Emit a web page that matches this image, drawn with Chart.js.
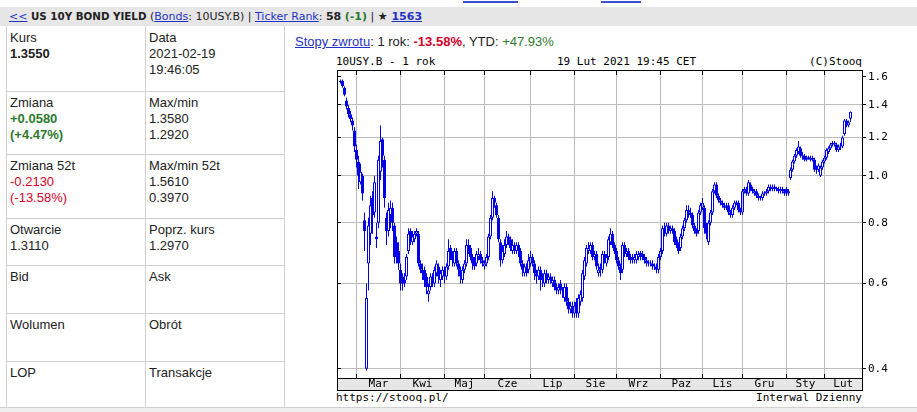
<!DOCTYPE html>
<html>
<head>
<meta charset="utf-8">
<script src="https://cdn.jsdelivr.net/npm/chart.js@4"></script>
<style>
body{margin:0;width:917px;height:412px;overflow:hidden;position:relative;background:#fff;font:13px Arial,"Liberation Sans",sans-serif;color:#222}
a{color:#1f33c8;text-decoration:underline}
.vl{position:absolute;width:1px;background:#d0d0d0;top:26px;height:382px}
.hl{position:absolute;height:1px;background:#d0d0d0;left:6px;width:279px}
.cell{position:absolute;line-height:16px;white-space:nowrap}
.g{color:#2d7a2d;font-weight:bold}
.r{color:#d6002b}
.mono{position:absolute;font:11px "DejaVu Sans Mono",monospace;color:#000;line-height:14px;white-space:nowrap}
#hdr{position:absolute;left:0;top:7px;width:917px;height:19px;background:#e6e6e6;font:11px "DejaVu Sans",sans-serif;line-height:19px;color:#222;white-space:nowrap}
#foot{position:absolute;left:0;top:407px;width:917px;height:5px;background:#efefef;border-top:1px solid #d0d0d0}
#wrap{position:absolute;left:290px;top:62px;width:627px;height:330px}
</style>
</head>
<body>
<div style="position:absolute;left:463px;top:1px;width:55px;height:2px;background:#3b4fd0"></div>
<div style="position:absolute;left:601px;top:1px;width:40px;height:2px;background:#3b4fd0"></div>

<div id="hdr"><span style="position:absolute;left:9px"><a>&lt;&lt;</a> <b style="font-size:10.3px">US 10Y BOND YIELD</b> (<a>Bonds</a>: 10USY.B) | <a>Ticker Rank</a>: <b>58</b> <b style="color:#2d7a2d">(-1)</b> | <b>&#9733; <a>1563</a></b></span></div>

<div class="vl" style="left:6px"></div>
<div class="vl" style="left:145px"></div>
<div class="vl" style="left:284px"></div>
<div class="hl" style="top:91px"></div>
<div class="hl" style="top:154px"></div>
<div class="hl" style="top:218px"></div>
<div class="hl" style="top:265px"></div>
<div class="hl" style="top:313px"></div>
<div class="hl" style="top:361px"></div>

<div class="cell" style="left:10px;top:30px">Kurs<br><b>1.3550</b></div>
<div class="cell" style="left:149px;top:30px">Data<br>2021-02-19<br>19:46:05</div>
<div class="cell" style="left:10px;top:95px">Zmiana<br><span class="g">+0.0580</span><br><span class="g">(+4.47%)</span></div>
<div class="cell" style="left:149px;top:95px">Max/min<br>1.3580<br>1.2920</div>
<div class="cell" style="left:10px;top:158px">Zmiana 52t<br><span class="r">-0.2130</span><br><span class="r">(-13.58%)</span></div>
<div class="cell" style="left:149px;top:158px">Max/min 52t<br>1.5610<br>0.3970</div>
<div class="cell" style="left:10px;top:222px">Otwarcie<br>1.3110</div>
<div class="cell" style="left:149px;top:222px">Poprz. kurs<br>1.2970</div>
<div class="cell" style="left:10px;top:269px">Bid</div>
<div class="cell" style="left:149px;top:269px">Ask</div>
<div class="cell" style="left:10px;top:317px">Wolumen</div>
<div class="cell" style="left:149px;top:317px">Obrót</div>
<div class="cell" style="left:10px;top:365px">LOP</div>
<div class="cell" style="left:149px;top:365px">Transakcje</div>

<div class="cell" style="left:295px;top:34px"><a>Stopy zwrotu</a>: 1 rok: <b class="r">-13.58%</b>, YTD: <span style="color:#2d7a2d">+47.93%</span></div>

<div class="mono" style="left:336px;top:55px">10USY.B - 1 rok</div>
<div class="mono" style="left:557px;top:55px">19 Lut 2021 19:45 CET</div>
<div class="mono" style="right:55px;top:55px">(C)Stooq</div>
<div class="mono" style="left:336px;top:391px">https://stooq.pl/</div>
<div class="mono" style="right:55px;top:391px">Interwal Dzienny</div>

<div id="wrap"><canvas id="chart"></canvas></div>
<div id="foot"></div>

<script>
// miesiace (pierwszy dzien handlowy miesiaca jako indeks sesji)
const monthNames = ['Mar', 'Kwi', 'Maj', 'Cze', 'Lip', 'Sie', 'Wrz', 'Paz', 'Lis', 'Gru', 'Sty', 'Lut'];
const monthStarts = [8, 30, 52, 72, 95, 117, 138, 160, 181, 201, 223, 242];
const yTicks = [0.4, 0.6, 0.8, 1.0, 1.2, 1.4, 1.6];
const yGrid = [0.4, 0.6, 0.8, 1.0, 1.2, 1.4];
const xMin = -1.75;
const xMax = 260.75;

// notowania dzienne 10USY.B, 2020-02-19 .. 2021-02-19
const opens = [
    1.56, 1.57, 1.52, 1.43, 1.38, 1.34, 1.30, 1.24, 1.13, 1.07,
    0.97, 1.00, 0.81, 0.40, 0.66, 0.76, 0.90, 0.84, 0.75, 0.80,
    1.02, 1.19, 1.08, 0.82, 0.77, 0.83, 0.86, 0.79, 0.73, 0.70,
    0.64, 0.62, 0.61, 0.62, 0.70, 0.77, 0.73, 0.74, 0.76, 0.76,
    0.66, 0.64, 0.64, 0.62, 0.57, 0.59, 0.62, 0.60, 0.63, 0.65,
    0.61, 0.62, 0.64, 0.62, 0.65, 0.71, 0.69, 0.66, 0.70, 0.66,
    0.64, 0.61, 0.64, 0.66, 0.72, 0.71, 0.68, 0.67, 0.66, 0.68,
    0.69, 0.67, 0.65, 0.66, 0.68, 0.75, 0.82, 0.90, 0.87, 0.82,
    0.73, 0.67, 0.69, 0.72, 0.75, 0.74, 0.70, 0.72, 0.70, 0.72,
    0.70, 0.66, 0.63, 0.65, 0.64, 0.66, 0.68, 0.66, 0.63, 0.62,
    0.64, 0.61, 0.60, 0.63, 0.61, 0.62, 0.60, 0.61, 0.59, 0.58,
    0.60, 0.58, 0.56, 0.59, 0.55, 0.53, 0.54, 0.52, 0.55, 0.52,
    0.55, 0.56, 0.62, 0.66, 0.70, 0.70, 0.72, 0.68, 0.69, 0.63,
    0.65, 0.64, 0.69, 0.66, 0.68, 0.73, 0.76, 0.72, 0.70, 0.67,
    0.65, 0.64, 0.72, 0.69, 0.70, 0.68, 0.67, 0.67, 0.67, 0.68,
    0.69, 0.69, 0.68, 0.67, 0.66, 0.66, 0.66, 0.65, 0.65, 0.64,
    0.68, 0.70, 0.78, 0.76, 0.79, 0.77, 0.78, 0.77, 0.74, 0.72,
    0.71, 0.75, 0.78, 0.81, 0.85, 0.84, 0.83, 0.79, 0.77, 0.77,
    0.84, 0.86, 0.86, 0.79, 0.73, 0.80, 0.84, 0.93, 0.96, 0.91,
    0.89, 0.88, 0.87, 0.86, 0.87, 0.84, 0.83, 0.86, 0.88, 0.88,
    0.85, 0.84, 0.93, 0.94, 0.92, 0.96, 0.94, 0.92, 0.93, 0.91,
    0.90, 0.90, 0.92, 0.92, 0.93, 0.95, 0.94, 0.95, 0.94, 0.94,
    0.93, 0.94, 0.93, 0.94, 0.92, 0.99, 1.03, 1.07, 1.10, 1.12,
    1.14, 1.10, 1.10, 1.08, 1.09, 1.09, 1.08, 1.08, 1.04, 1.03,
    1.00, 1.04, 1.07, 1.09, 1.12, 1.14, 1.16, 1.17, 1.16, 1.13,
    1.15, 1.15, 1.22, 1.30, 1.27, 1.311
];
const highs = [
    1.58, 1.58, 1.53, 1.45, 1.40, 1.36, 1.32, 1.26, 1.16, 1.10,
    1.06, 1.01, 0.84, 0.60, 0.82, 0.91, 0.93, 1.00, 0.80, 1.10,
    1.27, 1.20, 1.10, 0.84, 0.88, 0.89, 0.88, 0.80, 0.75, 0.73,
    0.66, 0.63, 0.63, 0.69, 0.78, 0.78, 0.77, 0.77, 0.78, 0.77,
    0.67, 0.66, 0.65, 0.63, 0.60, 0.63, 0.63, 0.65, 0.67, 0.66,
    0.64, 0.65, 0.65, 0.66, 0.74, 0.72, 0.70, 0.71, 0.71, 0.67,
    0.65, 0.65, 0.67, 0.74, 0.74, 0.72, 0.69, 0.68, 0.70, 0.71,
    0.70, 0.68, 0.67, 0.69, 0.76, 0.83, 0.93, 0.91, 0.88, 0.83,
    0.74, 0.72, 0.74, 0.77, 0.76, 0.75, 0.74, 0.73, 0.73, 0.73,
    0.71, 0.67, 0.66, 0.66, 0.69, 0.70, 0.69, 0.67, 0.64, 0.65,
    0.65, 0.63, 0.64, 0.64, 0.63, 0.63, 0.62, 0.62, 0.60, 0.60,
    0.61, 0.59, 0.60, 0.60, 0.56, 0.55, 0.55, 0.55, 0.56, 0.57,
    0.58, 0.64, 0.68, 0.72, 0.73, 0.73, 0.73, 0.70, 0.70, 0.66,
    0.66, 0.70, 0.70, 0.69, 0.75, 0.78, 0.77, 0.73, 0.71, 0.68,
    0.66, 0.73, 0.73, 0.71, 0.71, 0.69, 0.69, 0.69, 0.70, 0.70,
    0.70, 0.70, 0.69, 0.68, 0.67, 0.67, 0.67, 0.66, 0.66, 0.69,
    0.71, 0.79, 0.80, 0.80, 0.80, 0.79, 0.79, 0.78, 0.75, 0.73,
    0.76, 0.79, 0.82, 0.87, 0.87, 0.86, 0.84, 0.80, 0.78, 0.85,
    0.88, 0.90, 0.87, 0.80, 0.81, 0.85, 0.94, 0.97, 0.97, 0.92,
    0.90, 0.89, 0.88, 0.88, 0.88, 0.85, 0.87, 0.89, 0.89, 0.89,
    0.86, 0.94, 0.95, 0.95, 0.98, 0.97, 0.95, 0.94, 0.94, 0.92,
    0.91, 0.93, 0.93, 0.94, 0.96, 0.96, 0.96, 0.96, 0.95, 0.95,
    0.95, 0.95, 0.94, 0.95, 0.94, 1.04, 1.08, 1.11, 1.14, 1.18,
    1.15, 1.12, 1.11, 1.10, 1.10, 1.10, 1.10, 1.09, 1.05, 1.06,
    1.05, 1.08, 1.10, 1.14, 1.15, 1.17, 1.18, 1.18, 1.17, 1.16,
    1.17, 1.21, 1.31, 1.31, 1.30, 1.358
];
const lows = [
    1.55, 1.52, 1.46, 1.37, 1.32, 1.29, 1.24, 1.12, 1.04, 0.94,
    0.96, 0.89, 0.70, 0.397, 0.58, 0.72, 0.76, 0.82, 0.71, 0.78,
    0.98, 1.04, 0.86, 0.72, 0.75, 0.78, 0.77, 0.66, 0.66, 0.64,
    0.58, 0.58, 0.59, 0.61, 0.69, 0.72, 0.72, 0.73, 0.75, 0.65,
    0.63, 0.61, 0.59, 0.57, 0.55, 0.58, 0.59, 0.59, 0.62, 0.60,
    0.59, 0.61, 0.60, 0.61, 0.64, 0.67, 0.65, 0.65, 0.65, 0.62,
    0.60, 0.60, 0.63, 0.65, 0.69, 0.67, 0.64, 0.64, 0.65, 0.67,
    0.66, 0.65, 0.64, 0.65, 0.67, 0.74, 0.81, 0.86, 0.82, 0.73,
    0.65, 0.66, 0.68, 0.71, 0.72, 0.70, 0.69, 0.69, 0.69, 0.68,
    0.65, 0.62, 0.62, 0.62, 0.63, 0.65, 0.65, 0.61, 0.60, 0.61,
    0.58, 0.59, 0.59, 0.60, 0.60, 0.60, 0.59, 0.58, 0.57, 0.57,
    0.57, 0.56, 0.55, 0.54, 0.52, 0.52, 0.51, 0.51, 0.51, 0.51,
    0.54, 0.55, 0.61, 0.65, 0.69, 0.69, 0.67, 0.67, 0.64, 0.62,
    0.62, 0.63, 0.66, 0.65, 0.67, 0.72, 0.71, 0.69, 0.66, 0.64,
    0.61, 0.63, 0.68, 0.68, 0.67, 0.66, 0.66, 0.66, 0.66, 0.67,
    0.67, 0.67, 0.66, 0.65, 0.65, 0.65, 0.64, 0.64, 0.63, 0.63,
    0.67, 0.69, 0.75, 0.75, 0.76, 0.76, 0.76, 0.72, 0.71, 0.69,
    0.70, 0.74, 0.77, 0.80, 0.82, 0.82, 0.78, 0.76, 0.75, 0.76,
    0.83, 0.85, 0.76, 0.74, 0.72, 0.79, 0.83, 0.92, 0.90, 0.88,
    0.87, 0.86, 0.85, 0.85, 0.83, 0.82, 0.82, 0.85, 0.87, 0.84,
    0.83, 0.83, 0.92, 0.91, 0.91, 0.93, 0.92, 0.91, 0.90, 0.89,
    0.89, 0.89, 0.91, 0.91, 0.92, 0.93, 0.93, 0.93, 0.93, 0.92,
    0.92, 0.92, 0.91, 0.91, 0.91, 0.98, 1.02, 1.06, 1.09, 1.11,
    1.09, 1.08, 1.07, 1.07, 1.08, 1.07, 1.07, 1.02, 1.01, 1.02,
    0.995, 1.03, 1.06, 1.08, 1.11, 1.13, 1.15, 1.15, 1.12, 1.12,
    1.13, 1.14, 1.21, 1.26, 1.26, 1.292
];
const closes = [
    1.57, 1.53, 1.47, 1.39, 1.34, 1.31, 1.27, 1.15, 1.08, 1.00,
    1.02, 0.92, 0.77, 0.56, 0.79, 0.87, 0.83, 0.97, 0.74, 1.08,
    1.18, 1.10, 0.90, 0.77, 0.85, 0.86, 0.80, 0.68, 0.69, 0.66,
    0.60, 0.60, 0.60, 0.68, 0.76, 0.74, 0.75, 0.76, 0.77, 0.66,
    0.64, 0.63, 0.61, 0.59, 0.58, 0.62, 0.60, 0.64, 0.66, 0.62,
    0.63, 0.64, 0.62, 0.65, 0.70, 0.69, 0.67, 0.70, 0.66, 0.64,
    0.62, 0.64, 0.66, 0.72, 0.70, 0.68, 0.66, 0.65, 0.69, 0.69,
    0.67, 0.66, 0.66, 0.68, 0.75, 0.82, 0.90, 0.88, 0.83, 0.74,
    0.67, 0.70, 0.72, 0.75, 0.74, 0.71, 0.72, 0.71, 0.72, 0.70,
    0.66, 0.64, 0.65, 0.63, 0.67, 0.68, 0.66, 0.63, 0.62, 0.64,
    0.61, 0.61, 0.63, 0.61, 0.62, 0.61, 0.61, 0.59, 0.58, 0.59,
    0.58, 0.58, 0.59, 0.55, 0.53, 0.54, 0.52, 0.54, 0.52, 0.56,
    0.57, 0.63, 0.67, 0.71, 0.71, 0.72, 0.68, 0.69, 0.65, 0.64,
    0.64, 0.69, 0.67, 0.68, 0.74, 0.76, 0.72, 0.70, 0.67, 0.65,
    0.63, 0.72, 0.70, 0.70, 0.68, 0.67, 0.67, 0.68, 0.69, 0.69,
    0.69, 0.68, 0.67, 0.66, 0.66, 0.66, 0.65, 0.65, 0.64, 0.68,
    0.70, 0.78, 0.76, 0.79, 0.77, 0.78, 0.77, 0.73, 0.72, 0.70,
    0.75, 0.78, 0.81, 0.85, 0.84, 0.83, 0.79, 0.77, 0.76, 0.84,
    0.87, 0.88, 0.78, 0.76, 0.80, 0.84, 0.93, 0.96, 0.91, 0.89,
    0.88, 0.87, 0.86, 0.86, 0.84, 0.83, 0.86, 0.88, 0.88, 0.85,
    0.84, 0.93, 0.94, 0.92, 0.97, 0.94, 0.93, 0.93, 0.91, 0.90,
    0.90, 0.92, 0.92, 0.93, 0.95, 0.94, 0.95, 0.94, 0.94, 0.93,
    0.94, 0.93, 0.92, 0.92, 0.93, 1.03, 1.07, 1.10, 1.13, 1.15,
    1.10, 1.10, 1.08, 1.09, 1.09, 1.08, 1.09, 1.03, 1.03, 1.05,
    1.04, 1.07, 1.09, 1.13, 1.14, 1.16, 1.17, 1.16, 1.13, 1.15,
    1.15, 1.20, 1.30, 1.27, 1.29, 1.355
];

const BLUE = '#0000e6';
const GRID = '#bcbcbc';
const monoFont = {family: 'DejaVu Sans Mono', size: 11};

// srodki miesiecy pod etykiety
const monthMids = monthStarts.map(function (v, i) {
    const next = i < monthStarts.length - 1 ? monthStarts[i + 1] : xMax;
    return (v + next) / 2;
});

function crisp(p) {
    return Math.round(p - 0.5) + 0.5;
}

const stooqFrame = {
    id: 'stooqFrame',
    beforeDraw: function (chart) {
        const a = chart.chartArea;
        const c2d = chart.ctx;
        c2d.save();
        c2d.fillStyle = '#e6e6e6';
        c2d.fillRect(a.left, a.bottom, a.right - a.left, 12);
        c2d.restore();
    },
    afterDraw: function (chart) {
        const a = chart.chartArea;
        const c2d = chart.ctx;
        const sx = chart.scales.x;
        const sy = chart.scales.y;
        const w = a.right - a.left;
        const h = a.bottom - a.top;
        c2d.save();
        // siatka nad wszystkim, 'darken' nie rusza niebieskich swiec
        c2d.globalCompositeOperation = 'darken';
        c2d.strokeStyle = GRID;
        c2d.lineWidth = 1;
        c2d.beginPath();
        monthStarts.forEach(function (v) {
            const x = crisp(sx.getPixelForValue(v));
            c2d.moveTo(x, a.top);
            c2d.lineTo(x, a.bottom);
        });
        yGrid.forEach(function (v) {
            const y = crisp(sy.getPixelForValue(v));
            c2d.moveTo(a.left, y);
            c2d.lineTo(a.right, y);
        });
        c2d.stroke();
        c2d.globalCompositeOperation = 'source-over';
        // ramka i kreski podzialki
        c2d.strokeStyle = '#000';
        c2d.strokeRect(a.left + 0.5, a.top + 0.5, w, h);
        c2d.strokeRect(a.left + 0.5, a.bottom + 0.5, w, 12);
        c2d.beginPath();
        monthStarts.forEach(function (v) {
            const x = crisp(sx.getPixelForValue(v));
            c2d.moveTo(x, a.top);
            c2d.lineTo(x, a.top + 5);
            c2d.moveTo(x, a.bottom);
            c2d.lineTo(x, a.bottom - 4);
        });
        yTicks.forEach(function (v) {
            const y = crisp(sy.getPixelForValue(v));
            c2d.moveTo(a.left, y);
            c2d.lineTo(a.left + 4, y);
        });
        c2d.stroke();
        c2d.restore();
    }
};

new Chart(document.getElementById('chart'), {
    type: 'bar',
    data: {
        datasets: [{
            // korpusy swiec
            data: closes.map(function (c, i) {
                return {x: i, y: [opens[i], c]};
            }),
            order: 1,
            grouped: false,
            xAxisID: 'x',
            yAxisID: 'y',
            barThickness: 3,
            borderWidth: 1,
            borderSkipped: false,
            inflateAmount: 0,
            minBarLength: 1,
            borderColor: BLUE,
            backgroundColor: function (c) {
                const i = c.dataIndex;
                return closes[i] >= opens[i] ? '#ffffff' : BLUE;
            }
        }, {
            // knoty (min - max)
            data: highs.map(function (hv, i) {
                return {x: i, y: [lows[i], hv]};
            }),
            order: 2,
            grouped: false,
            xAxisID: 'x',
            yAxisID: 'y',
            barThickness: 1,
            borderWidth: 0,
            inflateAmount: 0,
            backgroundColor: BLUE
        }]
    },
    options: {
        responsive: true,
        maintainAspectRatio: false,
        animation: false,
        events: [],
        layout: {padding: {left: 47, right: 0, top: 8, bottom: 2}},
        plugins: {
            legend: {display: false},
            tooltip: {enabled: false}
        },
        scales: {
            x: {
                type: 'linear',
                position: 'bottom',
                offset: false,
                min: xMin,
                max: xMax,
                afterBuildTicks: function (s) {
                    s.ticks = monthStarts.map(function (v) { return {value: v}; });
                },
                afterFit: function (s) {
                    s.height = 0;
                    s.paddingLeft = 0;
                    s.paddingRight = 0;
                },
                ticks: {display: false},
                grid: {color: GRID, drawTicks: false, offset: false},
                border: {display: false}
            },
            xl: {
                type: 'linear',
                position: 'bottom',
                offset: false,
                min: xMin,
                max: xMax,
                afterBuildTicks: function (s) {
                    s.ticks = monthMids.map(function (v) { return {value: v}; });
                },
                afterFit: function (s) {
                    s.height = 12;
                    s.paddingLeft = 0;
                    s.paddingRight = 0;
                },
                ticks: {
                    autoSkip: false,
                    maxRotation: 0,
                    padding: 0,
                    color: '#000',
                    font: monoFont,
                    callback: function (value, index) {
                        return monthNames[index];
                    }
                },
                grid: {display: false, drawTicks: false, offset: false},
                border: {display: false}
            },
            y: {
                type: 'logarithmic',
                position: 'right',
                min: 0.383,
                max: 1.653,
                afterBuildTicks: function (s) {
                    s.ticks = yTicks.map(function (v) { return {value: v}; });
                },
                afterFit: function (s) {
                    s.width = 55;
                    s.paddingTop = 0;
                    s.paddingBottom = 0;
                },
                ticks: {
                    padding: 2,
                    color: '#000',
                    font: monoFont,
                    callback: function (value) {
                        return Number(value).toFixed(1);
                    }
                },
                grid: {
                    color: function (c) {
                        return c.tick && c.tick.value === 1.6 ? 'rgba(0,0,0,0)' : GRID;
                    },
                    tickColor: '#000',
                    tickLength: 4
                },
                border: {color: '#000'}
            }
        }
    },
    plugins: [stooqFrame]
});
</script>
</body>
</html>
